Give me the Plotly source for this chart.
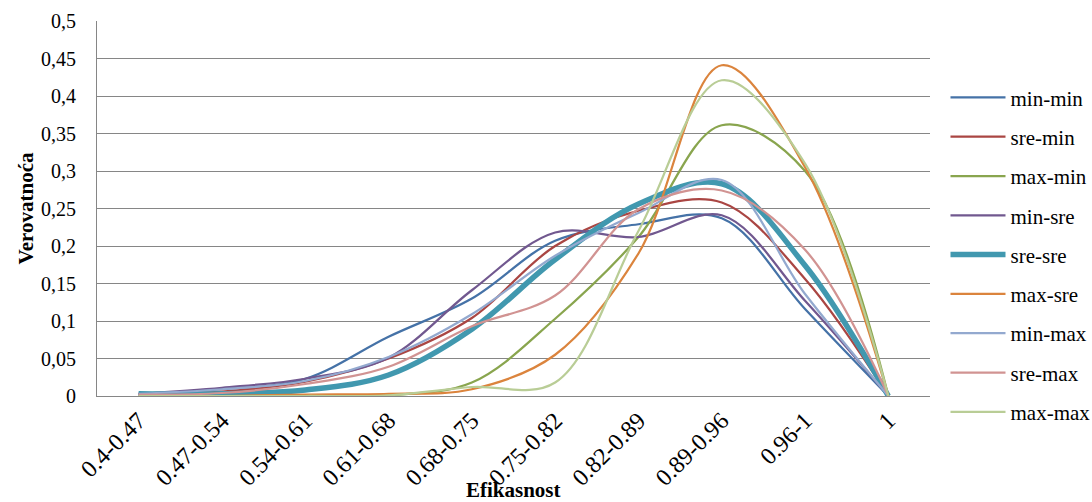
import plotly.graph_objects as go

categories = ["0.4-0.47", "0.47-0.54", "0.54-0.61", "0.61-0.68", "0.68-0.75",
              "0.75-0.82", "0.82-0.89", "0.89-0.96", "0.96-1", "1"]

min_min = [0.003, 0.009, 0.023, 0.079, 0.130, 0.207, 0.229, 0.237, 0.116, 0]
sre_min = [0.003, 0.006, 0.019, 0.050, 0.104, 0.200, 0.247, 0.258, 0.156, 0]
max_min = [0.000, 0.000, 0.000, 0.001, 0.018, 0.103, 0.212, 0.361, 0.300, 0]
min_sre = [0.003, 0.011, 0.023, 0.051, 0.141, 0.218, 0.212, 0.241, 0.127, 0]
sre_sre = [0.003, 0.003, 0.008, 0.028, 0.089, 0.182, 0.256, 0.283, 0.174, 0]
max_sre = [0.000, 0.000, 0.002, 0.003, 0.009, 0.055, 0.190, 0.441, 0.305, 0]
min_max = [0.003, 0.009, 0.020, 0.052, 0.109, 0.187, 0.244, 0.288, 0.136, 0]
sre_max = [0.002, 0.004, 0.016, 0.039, 0.093, 0.134, 0.249, 0.274, 0.195, 0]
max_max = [0.000, 0.000, 0.000, 0.001, 0.012, 0.018, 0.220, 0.421, 0.310, 0]

series_names = ["min-min", "sre-min", "max-min", "min-sre", "sre-sre",
                "max-sre", "min-max", "sre-max", "max-max"]
series_values = [min_min, sre_min, max_min, min_sre, sre_sre,
                 max_sre, min_max, sre_max, max_max]
colors = ["#4572A7", "#AA4643", "#89A54E", "#71588F", "#4198AF",
          "#DB843D", "#93A9CF", "#D19392", "#B9CD96"]
widths = [2.25, 2.25, 2.25, 2.25, 5.5, 2.25, 2.25, 2.25, 2.25]

y_ticks = [0, 0.05, 0.1, 0.15, 0.2, 0.25, 0.3, 0.35, 0.4, 0.45, 0.5]
y_tick_text = ["0", "0,05", "0,1", "0,15", "0,2", "0,25", "0,3", "0,35", "0,4", "0,45", "0,5"]

FONT = "Liberation Serif"

fig = go.Figure()
for i, (name, vals) in enumerate(zip(series_names, series_values)):
    fig.add_trace(go.Scatter(
        x=categories, y=vals, name=name, mode="lines",
        line=dict(color=colors[i], width=widths[i], shape="spline", smoothing=1.0),
        legendgroup=name,
    ))

fig.update_layout(
    width=1092, height=502,
    margin=dict(l=97, r=162, t=21, b=106, autoexpand=False),
    paper_bgcolor="white", plot_bgcolor="white",
    font=dict(family=FONT, size=20, color="black"),
    showlegend=True,
    legend=dict(x=1.0186, y=0.85, xanchor="left", yanchor="top",
                font=dict(family=FONT, size=21), tracegroupgap=9,
                itemwidth=55, bgcolor="rgba(0,0,0,0)"),
    xaxis=dict(type="category", range=[-0.5, 9.5], showgrid=False,
               showline=True, linecolor="#868686", linewidth=1,
               ticks="", tickangle=-45, tickfont=dict(family=FONT, size=24),
               zeroline=False, automargin=False),
    yaxis=dict(range=[0, 0.5], tickvals=y_ticks, ticktext=y_tick_text,
               showgrid=True, gridcolor="#868686", gridwidth=1,
               showline=True, linecolor="#868686", linewidth=1,
               ticks="", ticklabelstandoff=16, zeroline=False, automargin=False,
               tickfont=dict(family=FONT, size=20)),
    annotations=[
        dict(text="<b>Efikasnost</b>", x=0.5, y=-0.251, xref="paper", yref="paper",
             showarrow=False, xanchor="center", yanchor="middle",
             font=dict(family=FONT, size=21)),
        dict(text="<b>Verovatnoća</b>", x=-0.0864, y=0.5, xref="paper", yref="paper",
             showarrow=False, textangle=-90, xanchor="center", yanchor="middle",
             font=dict(family=FONT, size=21)),
    ],
)

fig.write_html("out.html", config={"displayModeBar": False},
               post_script="document.body.style.margin='0px';")
